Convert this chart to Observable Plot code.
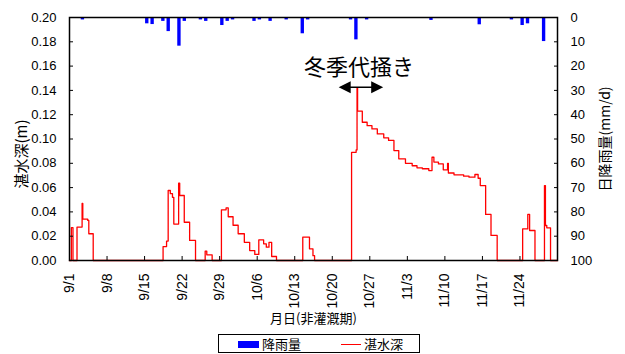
<!DOCTYPE html>
<html>
<head>
<meta charset="utf-8">
<script src="https://cdn.jsdelivr.net/npm/d3@7"></script>
<script src="https://cdn.jsdelivr.net/npm/@observablehq/plot@0.6"></script>
<style>
  html, body { margin: 0; padding: 0; background: white; }
  #wrap { width: 625px; }
  #legend { position: relative; width: 625px; height: 23px; font-family: "Noto Sans CJK JP", sans-serif; font-size: 13px; }
  #legend .box { position: absolute; left: 218px; top: 3px; width: 202px; height: 19px; border: 1px solid black; box-sizing: border-box; }
  #legend .sw { position: absolute; }
  #legend .tx { position: absolute; top: 0px; line-height: 17px; }
</style>
</head>
<body>
<div id="wrap"></div>
<script>
// ---- Data ----
const year = 2023;
// Daily rainfall (mm/d)
const rainDates  = ["09-03","09-15","09-16","09-18","09-19","09-21","09-22","09-25","09-26","09-29","09-30","10-01","10-05","10-06","10-08","10-11","10-14","10-15","10-23","10-24","10-26","11-07","11-16","11-22","11-24","11-25","11-28"];
const rainValues = [1.0, 2.6, 2.9, 1.6, 5.8, 11.8, 1.6, 1.0, 1.6, 3.3, 1.6, 1.0, 1.6, 1.0, 1.6, 1.0, 6.7, 1.0, 1.0, 9.2, 1.0, 1.2, 3.0, 1.0, 3.3, 2.6, 9.9];

// Ponding depth (m): time in days after 9/1 00:00, value at that time (step series)
const depthDays = [0, 0.35, 0.65, 1.4, 2.35, 2.48, 3.4, 3.6, 4.42,
  17.45, 18.1, 18.4, 18.8, 19.2, 19.45, 20.35, 20.55, 21.4, 22.4, 23.5,
  25.3, 25.6, 26.6,
  28.33, 29.2, 29.6, 30.5, 31.45, 32.6, 33.6, 34.55, 35.3, 36.2, 36.7, 37.2, 37.7, 38.6,
  43.5, 44.75, 45.4, 45.7,
  52.6, 53.45, 53.62, 53.72, 54.6, 55.5, 56.4, 57.4, 58.6, 59.5, 60.5, 61.4, 62.65, 63.9, 64.8, 65.8, 67.0,
  67.6, 67.95, 68.8, 69.7, 70.5, 70.65, 71.7, 73.5, 74.5, 75.6, 76.2, 76.6, 77.6, 78.6, 79.75,
  84.5, 85.46, 85.8, 86.8,
  88.57, 88.75, 89.0, 89.7, 91];
const depthValues = [0, 0.027, 0, 0.0275, 0.047, 0.034, 0.033, 0.022, 0,
  0.0115, 0.016, 0.0576, 0.055, 0.052, 0.030, 0.0636, 0.0535, 0.0315, 0.0165, 0,
  0.0077, 0.0047, 0,
  0.0417, 0.0433, 0.036, 0.029, 0.022, 0.015, 0.0082, 0.005, 0.017, 0.0137, 0.011, 0.015, 0.0033, 0,
  0.0192, 0.0096, 0.004, 0,
  0.089, 0.091, 0.142, 0.123, 0.1138, 0.111, 0.1083, 0.1042, 0.101, 0.0988, 0.0905, 0.0837, 0.080, 0.078, 0.0763, 0.0755, 0.074,
  0.085, 0.081, 0.0795, 0.0746, 0.080, 0.072, 0.0705, 0.0694, 0.0686, 0.0708, 0.0677, 0.0617, 0.0379, 0.0206, 0,
  0.026, 0.0379, 0.0247, 0,
  0.0617, 0.0288, 0.0269, 0, 0];

// Axis ticks
const depthTicks = [0, 0.02, 0.04, 0.06, 0.08, 0.10, 0.12, 0.14, 0.16, 0.18, 0.20];
const rainTicks  = [0, 10, 20, 30, 40, 50, 60, 70, 80, 90, 100];
const dateTickLabels = ["9/1","9/8","9/15","9/22","9/29","10/6","10/13","10/20","10/27","11/3","11/10","11/17","11/24"];

// Annotation (winter puddling period)
const annotLabel = "冬季代掻き";
const annotStartDay = 50.2;
const annotEndDay = 58.5;
const annotDepth = 0.1425;

// Labels
const yLeftLabel = "湛水深(m)";
const yRightLabel = "日降雨量(mm/d)";
const xLabel = "月日(非灌漑期)";
const legendRain = "降雨量";
const legendDepth = "湛水深";

// ---- Derived ----
const dayMs = 86400000;
const t0 = Date.UTC(year, 8, 1);
const toDate = d => new Date(t0 + d * dayMs);
const depthMax = 0.2, rainMax = 100;
const rainToY = r => depthMax * (1 - r / rainMax);

const rain = rainDates.map((s, i) => {
  const d = new Date(`${year}-${s}T00:00:00Z`);
  return {x1: d, x2: new Date(+d + dayMs), y1: depthMax, y2: rainToY(rainValues[i])};
});
const depth = depthDays.map((d, i) => ({t: toDate(d), v: depthValues[i]}));
const xTicks = dateTickLabels.map(s => { const [m, dd] = s.split("/").map(Number); return new Date(Date.UTC(year, m - 1, dd)); });
const rightTicks = rainTicks.map(rainToY);
const rightLabelOf = new Map(rightTicks.map((v, i) => [v, String(rainTicks[i])]));

const headRight = {draw(ctx) { ctx.moveTo(0, 0); ctx.lineTo(-12, -6); ctx.lineTo(-12, 6); ctx.closePath(); }};
const headLeft  = {draw(ctx) { ctx.moveTo(0, 0); ctx.lineTo(12, -6); ctx.lineTo(12, 6); ctx.closePath(); }};

const cjk = "'Noto Sans CJK JP', sans-serif";

const chart = Plot.plot({
  width: 625,
  height: 331,
  marginLeft: 69,
  marginRight: 68,
  marginTop: 17,
  marginBottom: 71,
  style: {fontFamily: "'Liberation Sans', Arial, 'Noto Sans CJK JP', sans-serif", fontSize: "13px", color: "black", background: "white"},
  x: {type: "utc", domain: [toDate(0), toDate(91)]},
  y: {domain: [0, depthMax]},
  marks: [
    Plot.rect(rain, {x1: "x1", x2: "x2", y1: "y1", y2: "y2", fill: "#0000ff", insetLeft: 1, insetRight: 1}),
    Plot.line(depth, {x: "t", y: "v", curve: "step-after", stroke: "#ff0000", strokeWidth: 1.3}),
    Plot.frame({stroke: "black", strokeWidth: 1.5}),
    Plot.axisY({anchor: "left", ticks: depthTicks, tickFormat: d3.format(".2f"), tickSize: -4, tickPadding: 17, label: null, fontSize: 13}),
    Plot.axisY({anchor: "right", ticks: rightTicks, tickFormat: v => rightLabelOf.get(v), tickSize: -4, tickPadding: 17, label: null, fontSize: 13}),
    Plot.axisX({ticks: xTicks, tickFormat: d3.utcFormat("%-m/%-d"), tickRotate: -90, tickSize: -4, tickPadding: 17, label: null, fontSize: 14}),
    Plot.text([yLeftLabel], {text: d => d, frameAnchor: "left", textAnchor: "middle", rotate: -90, dx: -47.5, dy: 15, fontSize: 15, fontFamily: cjk}),
    Plot.text([yRightLabel], {text: d => d, frameAnchor: "right", textAnchor: "middle", rotate: -90, dx: 48, fontSize: 14, fontFamily: cjk}),
    Plot.text([xLabel], {text: d => d, frameAnchor: "bottom", textAnchor: "middle", dy: 62, fontSize: 13, fontFamily: cjk}),
    Plot.ruleY([annotDepth], {x1: toDate(annotStartDay + 0.5), x2: toDate(annotEndDay - 0.5), stroke: "black", strokeWidth: 1.5}),
    Plot.dot([annotDepth], {x: toDate(annotEndDay), y: d => d, symbol: headRight, fill: "black", stroke: "none"}),
    Plot.dot([annotDepth], {x: toDate(annotStartDay), y: d => d, symbol: headLeft, fill: "black", stroke: "none"}),
    Plot.text([annotLabel], {x: toDate((annotStartDay + annotEndDay) / 2), y: annotDepth, text: d => d, dy: -19, dx: -2, fontSize: 22, fontFamily: cjk, letterSpacing: 2})
  ]
});
document.getElementById("wrap").appendChild(chart);

// Legend below the chart
const legend = document.createElement("div");
legend.id = "legend";
legend.innerHTML = `<div class="box">
  <div class="sw" style="left:19px;top:6px;width:21px;height:7px;background:#0000ff"></div>
  <div class="tx" style="left:43px">${legendRain}</div>
  <div class="sw" style="left:122px;top:9px;width:20px;height:1.3px;background:#ff0000"></div>
  <div class="tx" style="left:145px">${legendDepth}</div>
</div>`;
document.getElementById("wrap").appendChild(legend);
</script>
</body>
</html>
